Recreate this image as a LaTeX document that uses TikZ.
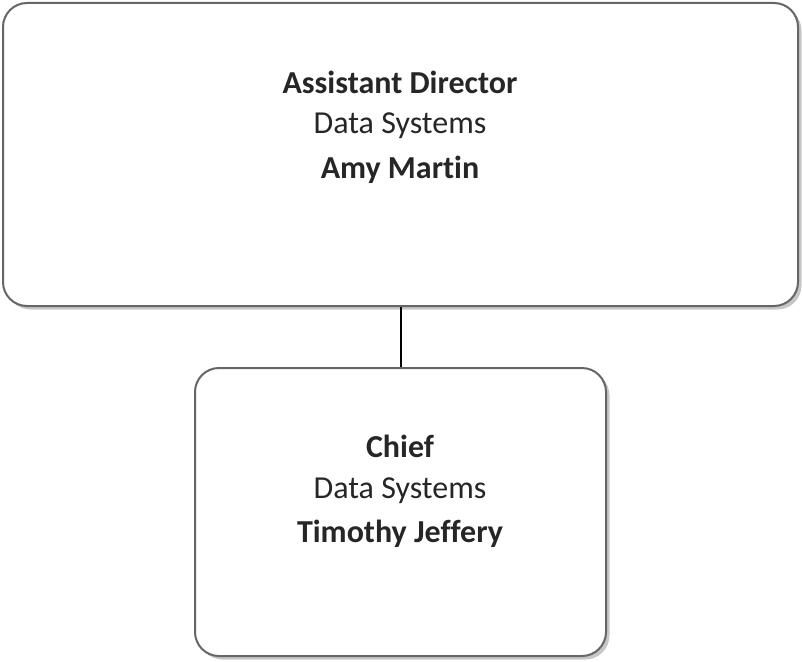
\documentclass[tikz,border=0pt]{standalone}
\usepackage{fontspec}
\setmainfont{Carlito}[Ligatures={NoCommon}]
\usetikzlibrary{shadows}
\begin{document}
\begin{tikzpicture}[x=1pt,y=-1pt,
  orgbox/.style={draw=black!60, line width=2pt, rounded corners=24pt, fill=white,
    drop shadow={shadow xshift=3.5pt, shadow yshift=-3.5pt, fill=black!22, opacity=1},
    inner sep=0pt, anchor=north west},
  lbl/.style={font=\fontsize{32}{38}\selectfont, text=black!85, inner sep=0pt, anchor=center},
  blbl/.style={lbl, font=\fontsize{32}{38}\selectfont\bfseries},
  conn/.style={draw=black, line width=2pt}]
\useasboundingbox (0,0) rectangle (802,661);
\node[orgbox, minimum width=795pt, minimum height=303pt] (top) at (2,2) {};
\node[orgbox, minimum width=411pt, minimum height=288pt] (bot) at (194,367) {};
\draw[conn] (top.south) -- (bot.north -| top.south);
\node[blbl] (t1) at (400,82) {Assistant Director};
\node[lbl] (t2) at (400,126) {Data Systems};
\node[blbl] (t3) at (400,170) {Amy Martin};
\node[blbl] (b1) at (400,446) {Chief};
\node[lbl] (b2) at (400,491) {Data Systems};
\node[blbl] (b3) at (400,534) {Timothy Jeffery};
\end{tikzpicture}
\end{document}
